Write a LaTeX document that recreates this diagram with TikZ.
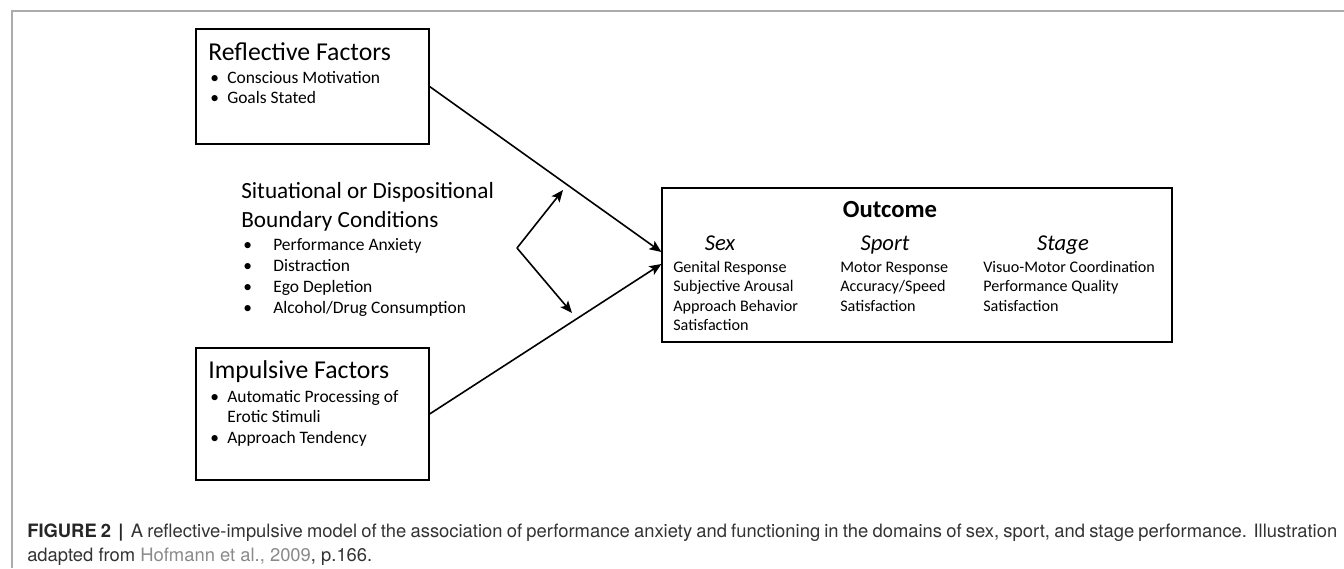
\documentclass[tikz,border=0pt]{standalone}
\usepackage{fontspec}
\setmainfont{Carlito}
\newfontfamily\capfont{TeX Gyre Heros}
\usepackage{xcolor}
\usetikzlibrary{arrows.meta}

\definecolor{framegray}{HTML}{ABABAB}
\definecolor{captext}{HTML}{333333}
\definecolor{linkgray}{HTML}{8A8A8A}

\tikzset{
    factorbox/.style={draw, line width=0.9pt, inner sep=0pt},
    txt/.style={anchor=base west, inner sep=0pt},
    ctxt/.style={anchor=base, inner sep=0pt},
    arr/.style={line width=1.2pt, -{Stealth[length=9pt,width=7.5pt,inset=2pt]}},
}
\newcommand{\bul}[2]{\makebox[#1][l]{\textbullet}#2}

\begin{document}
\begin{tikzpicture}[x=0.75pt,y=-0.75pt]
    \useasboundingbox (0,0) rectangle (1344,568);
    % frame of the figure
    \draw[framegray, line width=1.5pt] (12,568) -- (12,11) -- (1344,11);

    % the three boxes
    \node[factorbox, minimum width=174.75pt, minimum height=86.25pt] (refl) at (312.5,86.5) {};
    \node[factorbox, minimum width=174.75pt, minimum height=99pt] (impl) at (312.5,414) {};
    \node[factorbox, minimum width=382.5pt, minimum height=115.5pt] (outc) at (917,265) {};

    % reflective factors
    \node[txt, font=\fontsize{19.3}{22}\selectfont] (refltitle) at (208,60) {Reflective Factors};
    \foreach \t [count=\i] in {Conscious Motivation, Goals Stated}
        \node[txt, font=\fontsize{13.1}{15}\selectfont] (reflitem\i) at (210,63+20*\i) {\bul{12.75pt}{\t}};

    % impulsive factors
    \node[txt, font=\fontsize{19.3}{22}\selectfont] (impltitle) at (208,378) {Impulsive Factors};
    \begin{scope}[font=\fontsize{13.1}{15}\selectfont]
        \node[txt] (implitem1) at (210,402) {\bul{12.75pt}{Automatic Processing of}};
        \node[txt] (implitem1b) at (227,422) {Erotic Stimuli};
        \node[txt] (implitem2) at (210,443) {\bul{12.75pt}{Approach Tendency}};
    \end{scope}

    % boundary conditions
    \node[txt, font=\fontsize{17.4}{20}\selectfont] (cond1) at (241,198) {Situational or Dispositional};
    \node[txt, font=\fontsize{17.4}{20}\selectfont] (cond2) at (241,227) {Boundary Conditions};
    \foreach \t [count=\i] in {Performance Anxiety, Distraction, Ego Depletion, Alcohol/Drug Consumption}
        \node[txt, font=\fontsize{13.1}{15}\selectfont] (conditem\i) at (243,229+21*\i) {\bul{22.5pt}{\t}};

    % outcome
    \node[ctxt, font=\fontsize{18.5}{21}\selectfont\bfseries] (outtitle) at (890,217) {Outcome};
    \node[ctxt, font=\fontsize{17}{20}\selectfont\itshape] (sex) at (720,250) {Sex};
    \node[ctxt, font=\fontsize{17}{20}\selectfont\itshape] (sport) at (885,250) {Sport};
    \node[ctxt, font=\fontsize{17}{20}\selectfont\itshape] (stage) at (1063,250) {Stage};
    \begin{scope}[font=\fontsize{12.1}{14}\selectfont]
        \foreach \t [count=\i] in {Genital Response, Subjective Arousal, Approach Behavior, Satisfaction}
            \node[txt] (sexitem\i) at (673,252.5+19.5*\i) {\t};
        \foreach \t [count=\i] in {Motor Response, Accuracy/Speed, Satisfaction}
            \node[txt] (sportitem\i) at (840,252.5+19.5*\i) {\t};
        \foreach \t [count=\i] in {Visuo-Motor Coordination, Performance Quality, Satisfaction}
            \node[txt] (stageitem\i) at (983,252.5+19.5*\i) {\t};
    \end{scope}

    % connectors
    \coordinate (bend) at (517,248);
    \coordinate (uptip) at (563,190);
    \coordinate (lowtip) at (572,313);
    \draw[arr] (refl.east) -- ([yshift=9.75pt]outc.west);
    \draw[arr] (impl.east) -- ([yshift=0.75pt]outc.west);
    \draw[arr] (bend) -- (uptip);
    \draw[arr] (bend) -- (lowtip);

    % caption
    \node[txt, text=captext, text width=982.5pt, align=justify,
          font=\capfont\fontsize{13.8}{18}\selectfont] (cap) at (27,537)
        {{\bfseries\color{black!85}FIGURE 2 \,|\,} A reflective-impulsive model of the association of performance anxiety and functioning in the domains of sex, sport, and stage performance. Illustration\linebreak
         adapted from {\color{linkgray}Hofmann et al., 2009}, p.166.};
\end{tikzpicture}
\end{document}
